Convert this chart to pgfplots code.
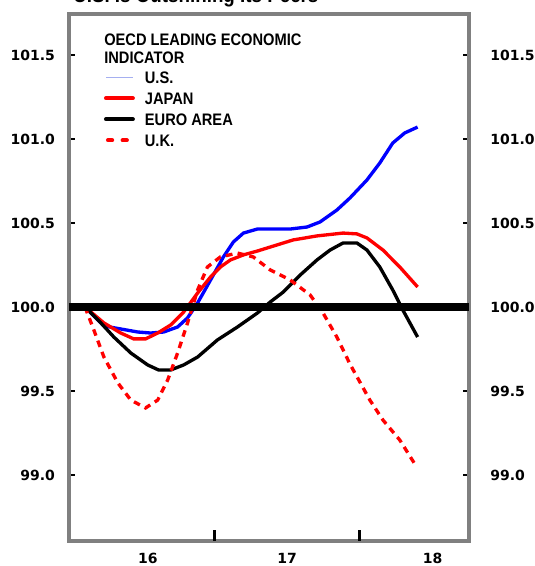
\documentclass[border=0pt]{standalone}
\usepackage{fontspec}
\setmainfont{DejaVu Sans}
\newfontfamily\legfont[FakeStretch=0.88]{Liberation Sans}
\usepackage{pgfplots}
\pgfplotsset{compat=1.18}
\definecolor{usblue}{RGB}{0,0,255}
\definecolor{jpred}{RGB}{255,0,0}
\definecolor{framegray}{RGB}{128,128,128}
\definecolor{uslegend}{RGB}{165,175,240}
\begin{document}
\begin{tikzpicture}
% x = months since January 2016
\begin{axis}[name=ax, at={(0,0)}, anchor=south west, scale only axis,
  width=300pt, height=395.25pt,
  xmin=0, xmax=33, ymin=98.607, ymax=101.744,
  axis line style={draw=framegray, line width=2.8pt},
  xtick={6.5,18,30}, xticklabels={16,17,18},
  xtick pos=bottom, ytick pos=both, tick align=inside,
  xtick style={draw=none},
  major tick length=4.5pt,
  ytick={99,99.5,100,100.5,101,101.5},
  ytick style={draw=black, line width=2.2pt},
  tick label style={font=\bfseries\fontsize{10.5}{12}\selectfont},
  /pgf/number format/assume math mode=true,
  yticklabel style={/pgf/number format/fixed, /pgf/number format/fixed zerofill, /pgf/number format/precision=1, xshift=-7pt},
  xticklabel style={yshift=-5.5pt},
  legend style={draw=none, fill=none, inner sep=0pt, at={(axis description cs:0.0867,0.8944)}, anchor=north west,
    row sep=4.75pt, column sep=6.5pt,
    nodes={inner sep=1pt, text height=9pt, text depth=0pt},
    font=\legfont\bfseries\fontsize{12.5}{14}\selectfont},
  legend cell align=left,
  legend image code/.code={\draw[#1] (0pt,0pt) -- (20pt,0pt);},
]
\addlegendimage{uslegend, line width=0.7pt}
\addlegendentry{U.S.}
\addlegendimage{jpred, line width=3.2pt, line cap=round}
\addlegendentry{JAPAN}
\addlegendimage{black, line width=3.2pt, line cap=round}
\addlegendentry{EURO AREA}
\addlegendimage{jpred, line width=3.2pt, line cap=round, dash pattern=on 3pt off 8pt, dash phase=-1.5pt}
\addlegendentry{U.K.}
\addplot[usblue, line width=2.5pt, forget plot] coordinates {
(1.32,100.000) (2.88,99.887) (4.27,99.869) (5.68,99.851) (6.74,99.845)
(7.81,99.851) (8.96,99.881) (9.78,99.935) (10.61,100.024) (11.68,100.161)
(12.74,100.298) (13.56,100.387) (14.39,100.440) (15.54,100.464) (16.61,100.464)
(18.25,100.464) (19.64,100.476) (20.71,100.506) (22.10,100.577) (23.18,100.649)
(24.58,100.756) (25.64,100.857) (26.71,100.976) (27.70,101.036) (28.76,101.071)};
\addplot[jpred, line width=2.5pt, forget plot] coordinates {
(1.32,100.000) (2.88,99.905) (4.27,99.845) (5.34,99.810) (6.32,99.810)
(7.32,99.845) (8.39,99.893) (9.46,99.970) (10.61,100.083) (11.68,100.179)
(12.49,100.238) (13.32,100.280) (14.39,100.310) (15.54,100.333) (16.61,100.357)
(18.49,100.399) (20.46,100.423) (22.61,100.440) (23.75,100.435) (24.58,100.411)
(25.90,100.339) (27.29,100.238) (28.76,100.119)};
\addplot[black, line width=2.5pt, forget plot] coordinates {
(1.32,100.000) (2.63,99.905) (3.70,99.821) (5.10,99.726) (6.49,99.655)
(7.39,99.625) (8.39,99.625) (9.46,99.655) (10.61,99.702) (12.25,99.804)
(13.90,99.881) (15.54,99.964) (16.61,100.030) (17.68,100.089) (19.07,100.190)
(20.46,100.280) (21.54,100.339) (22.61,100.381) (23.75,100.381) (24.58,100.339)
(25.64,100.238) (26.71,100.101) (27.54,99.982) (28.76,99.821)};
\addplot[jpred, line width=2.5pt, dash pattern=on 5pt off 4pt, forget plot] coordinates {
(1.32,100.000) (2.05,99.863) (2.88,99.702) (4.03,99.548) (5.10,99.446)
(6.32,99.399) (7.32,99.446) (8.14,99.565) (8.96,99.726) (9.78,99.905)
(10.61,100.101) (11.42,100.238) (12.49,100.298) (13.90,100.321) (15.20,100.298)
(16.61,100.220) (18.25,100.161) (19.90,100.071) (20.96,99.964) (22.10,99.821)
(23.18,99.660) (24.82,99.446) (25.90,99.327) (27.29,99.208) (28.68,99.048)};
\addplot[black, line width=5.3pt, forget plot] coordinates {(0,100) (33,100)};
\draw[black, line width=2.2pt] (axis cs:12,98.607) -- ++(0pt,8pt);
\draw[black, line width=2.2pt] (axis cs:24,98.607) -- ++(0pt,8pt);
\end{axis}
\begin{axis}[at={(ax.south west)}, anchor=south west, scale only axis,
  width=300pt, height=395.25pt,
  xmin=0, xmax=33, ymin=98.607, ymax=101.744,
  axis line style={draw=none}, xtick=\empty,
  ytick={99,99.5,100,100.5,101,101.5}, yticklabel pos=right,
  ytick style={draw=none},
  tick label style={font=\bfseries\fontsize{10.5}{12}\selectfont},
  /pgf/number format/assume math mode=true,
  yticklabel style={/pgf/number format/fixed, /pgf/number format/fixed zerofill, /pgf/number format/precision=1, xshift=12.5pt},
]
\end{axis}
\node[anchor=base west, inner sep=0pt, font=\legfont\bfseries\fontsize{12.5}{14}\selectfont] at ([xshift=26.25pt, yshift=-24pt]ax.north west) {OECD LEADING ECONOMIC};
\node[anchor=base west, inner sep=0pt, font=\legfont\bfseries\fontsize{12.5}{14}\selectfont] at ([xshift=26.25pt, yshift=-37pt]ax.north west) {INDICATOR};
\node[anchor=base west, inner sep=0pt, font=\legfont\bfseries\fontsize{16}{18}\selectfont] at ([xshift=3pt, yshift=8.25pt]ax.north west) {U.S. Is Outshining Its Peers};
\pgfresetboundingbox
\path[use as bounding box] ([shift={(-51.75pt,-18.75pt)}]ax.south west) rectangle ([shift={(48.75pt,10.5pt)}]ax.north east);
\end{tikzpicture}
\end{document}
